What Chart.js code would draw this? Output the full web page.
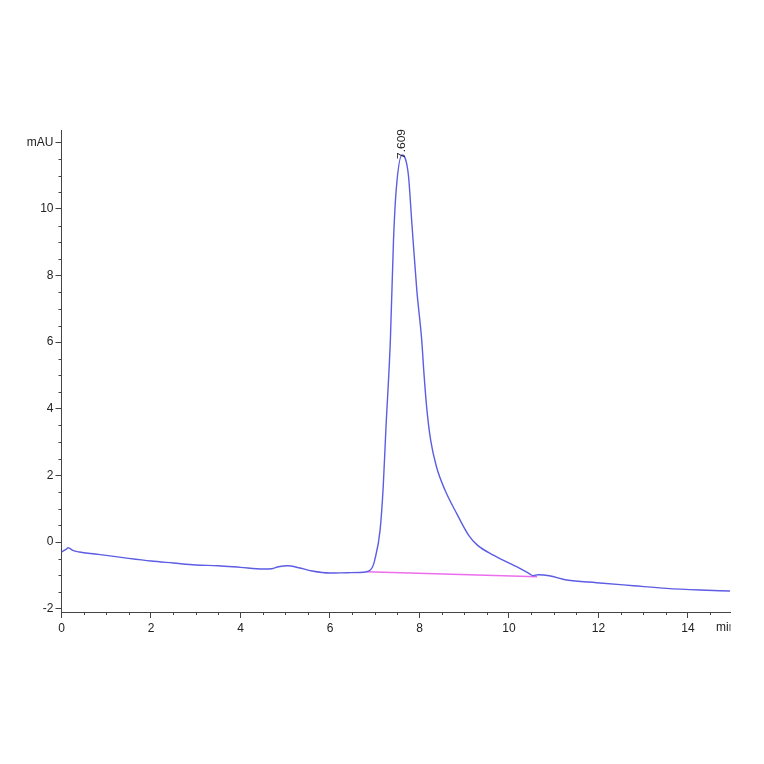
<!DOCTYPE html>
<html>
<head>
<meta charset="utf-8">
<script src="https://cdn.jsdelivr.net/npm/chart.js@4"></script>
<style>
  body { margin: 0; background: #fff; }
  #wrap { width: 764px; height: 764px; }
</style>
</head>
<body>
<div id="wrap"><canvas id="chrom"></canvas></div>
<script>
// retention time (min) and signal (mAU)
const times = [0.00, 0.10, 0.15, 0.25, 0.40, 0.75, 1.00, 1.50, 2.00, 2.50, 3.00, 3.50, 4.00, 4.50, 4.70, 4.85,
    5.06, 5.30, 5.60, 6.00, 6.40, 6.82, 6.95, 7.00, 7.12, 7.19, 7.25, 7.35, 7.42, 7.48, 7.61, 7.75,
    7.83, 7.94, 8.05, 8.10, 8.16, 8.25, 8.38, 8.57, 8.83, 9.10, 9.30, 9.65, 10.17, 10.47, 10.54, 10.65,
    10.90, 11.29, 11.96, 12.78, 13.52, 14.27, 14.94];
const signal = [-0.30, -0.22, -0.17, -0.25, -0.30, -0.36, -0.40, -0.49, -0.57, -0.63, -0.69, -0.71, -0.76, -0.81, -0.80, -0.74,
    -0.71, -0.77, -0.87, -0.93, -0.92, -0.89, -0.75, -0.54, 0.36, 1.66, 3.40, 6.07, 9.07, 10.57, 11.62, 11.05,
    9.57, 7.57, 6.07, 5.07, 4.06, 3.06, 2.26, 1.56, 0.86, 0.20, -0.10, -0.39, -0.74, -0.96, -1.01, -0.98,
    -1.01, -1.14, -1.22, -1.31, -1.39, -1.44, -1.47];

// integration baseline under the peak
const baseTimes = [6.82, 10.63];
const baseSignal = [-0.89, -1.04];

const peakTime = 7.609;
const peakLabel = "7.609";
const peakHeight = 11.62;

const xMin = 0, xMax = 14.94;
const yMin = -2.1, yMax = 12.37;
const axisColor = "#444";
const tickFont = { family: "'Liberation Sans Narrow', 'Liberation Sans', Arial", size: 12 };

const trace = times.map((t, i) => ({ x: t, y: signal[i] }));
const baseline = baseTimes.map((t, i) => ({ x: t, y: baseSignal[i] }));

function isMajor(v) {
    return Math.abs(v % 2) < 1e-6;
}

// short ticks for the half steps, peak label and the unit on the time axis
const extras = {
    id: "extras",
    afterDraw(chart) {
        const ctx = chart.ctx;
        const xs = chart.scales.x, ys = chart.scales.y;
        ctx.save();
        ctx.strokeStyle = axisColor;
        ctx.lineWidth = 1;
        ctx.beginPath();
        xs.ticks.forEach(t => {
            if (isMajor(t.value)) return;
            const px = Math.round(xs.getPixelForValue(t.value)) + 0.5;
            ctx.moveTo(px, xs.top);
            ctx.lineTo(px, xs.top + 3);
        });
        ys.ticks.forEach(t => {
            if (isMajor(t.value)) return;
            const py = Math.round(ys.getPixelForValue(t.value)) + 0.5;
            ctx.moveTo(ys.right, py);
            ctx.lineTo(ys.right - 3, py);
        });
        ctx.stroke();

        // "min" at the right end, clipped like the original
        ctx.save();
        ctx.beginPath();
        ctx.rect(0, 0, xs.right + 0.5, chart.height);
        ctx.clip();
        ctx.fillStyle = "#222";
        ctx.font = "12px 'Liberation Sans Narrow', 'Liberation Sans', Arial";
        ctx.textBaseline = "top";
        ctx.textAlign = "left";
        ctx.fillText("min", xs.right - 14, xs.top + 10);
        ctx.restore();

        // retention time label, rotated
        const lx = xs.getPixelForValue(peakTime);
        const ly = ys.getPixelForValue(peakHeight);
        ctx.translate(lx, ly + 4);
        ctx.rotate(-Math.PI / 2);
        ctx.scale(1.2, 1);
        ctx.fillStyle = "#222";
        ctx.font = "10px 'Liberation Sans', Arial";
        ctx.textAlign = "left";
        ctx.textBaseline = "middle";
        ctx.fillText(peakLabel, 0, 0);
        ctx.restore();
    }
};

new Chart(document.getElementById("chrom"), {
    type: "line",
    data: {
        datasets: [{
            data: trace,
            borderColor: "rgb(92, 92, 228)",
            borderWidth: 1.4,
            pointRadius: 0,
            cubicInterpolationMode: "monotone",
            fill: false
        }, {
            data: baseline,
            borderColor: "rgb(236, 110, 236)",
            borderWidth: 1.4,
            pointRadius: 0,
            fill: false
        }]
    },
    options: {
        responsive: true,
        maintainAspectRatio: false,
        animation: false,
        layout: { padding: { left: 0, top: 130, right: 34, bottom: 122 } },
        plugins: {
            legend: { display: false },
            tooltip: { enabled: false }
        },
        scales: {
            x: {
                type: "linear",
                min: xMin,
                max: xMax,
                afterFit: (s) => { s.height = 30; },
                border: { display: true, color: axisColor, width: 1 },
                grid: {
                    drawOnChartArea: false,
                    tickLength: 6,
                    tickColor: (c) => isMajor(c.tick.value) ? axisColor : "rgba(0,0,0,0)"
                },
                ticks: {
                    stepSize: 0.5,
                    includeBounds: false,
                    autoSkip: false,
                    maxRotation: 0,
                    padding: 3,
                    color: "#222",
                    font: tickFont,
                    callback: (v) => isMajor(v) ? String(v) : ""
                }
            },
            y: {
                type: "linear",
                min: yMin,
                max: yMax,
                afterFit: (s) => { s.width = 61.5; },
                border: { display: true, color: axisColor, width: 1 },
                grid: {
                    drawOnChartArea: false,
                    tickLength: 6,
                    tickColor: (c) => isMajor(c.tick.value) ? axisColor : "rgba(0,0,0,0)"
                },
                ticks: {
                    stepSize: 0.5,
                    includeBounds: false,
                    autoSkip: false,
                    padding: 2,
                    color: "#222",
                    font: tickFont,
                    callback: (v) => v === 12 ? "mAU" : (isMajor(v) ? String(v) : "")
                }
            }
        }
    },
    plugins: [extras]
});
</script>
</body>
</html>
